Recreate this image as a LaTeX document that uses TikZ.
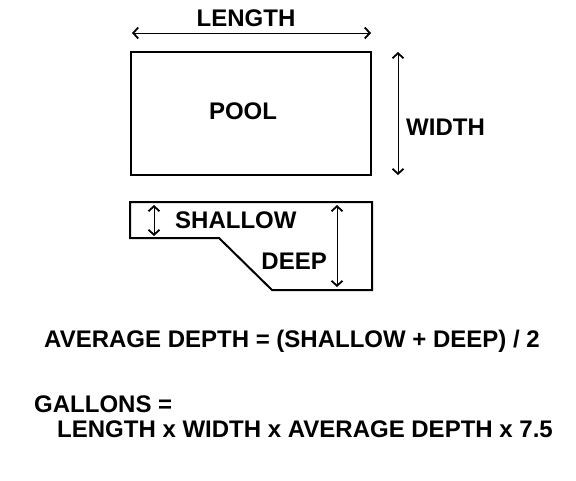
\documentclass[tikz,border=0pt]{standalone}
\usepackage{fontspec}
\setmainfont{Liberation Sans}
\usetikzlibrary{arrows.meta}
\tikzset{
  label/.style={font=\fontsize{24}{28}\selectfont\bfseries, inner sep=0pt},
  dim/.style={line width=0.9pt, {Straight Barb[length=5pt,width=11pt,line width=1.8pt]}-{Straight Barb[length=5pt,width=11pt,line width=1.8pt]}},
  outline/.style={line width=2pt, line join=miter}
}
\begin{document}
\begin{tikzpicture}[x=1pt,y=-1pt]
\useasboundingbox[fill=white] (0,0) rectangle (576,480);
% pool seen from above
\coordinate (P1) at (131,52);
\coordinate (P2) at (371,175);
\draw[outline] (P1) rectangle (P2);
\node[label] (pool) at (243,111) {POOL};

% length and width
\coordinate (L1) at (132,33);
\coordinate (L2) at (371,33);
\draw[dim] (L1) -- (L2);
\node[label] (length) at (246,18) {LENGTH};
\coordinate (W1) at (398,52);
\coordinate (W2) at (398,175);
\draw[dim] (W1) -- (W2);
\node[label, anchor=west] (width) at (406,127) {WIDTH};

% pool seen from the side
\coordinate (A) at (130,202);
\coordinate (B) at (372,202);
\coordinate (C) at (372,290);
\coordinate (D) at (272,290);
\coordinate (E) at (219,238);
\coordinate (F) at (130,238);
\draw[outline] (A) -- (B) -- (C) -- (D) -- (E) -- (F) -- cycle;

% depths
\coordinate (S1) at (154,205);
\coordinate (S2) at (154,236);
\draw[dim] (S1) -- (S2);
\node[label, anchor=west] (shallow) at (175,220) {SHALLOW};
\coordinate (D1) at (337,205);
\coordinate (D2) at (337,287);
\draw[dim] (D1) -- (D2);
\node[label, anchor=east] (deep) at (327,261) {DEEP};

% formulas
\node[label, anchor=west] (avg) at (44,341) {AVERAGE DEPTH = (SHALLOW + DEEP) / 2};
\node[label, anchor=west] (gal) at (34,404) {GALLONS =};
\node[label, anchor=west] (prod) at (57,429) {LENGTH x WIDTH x AVERAGE DEPTH x 7.5};
\end{tikzpicture}
\end{document}
